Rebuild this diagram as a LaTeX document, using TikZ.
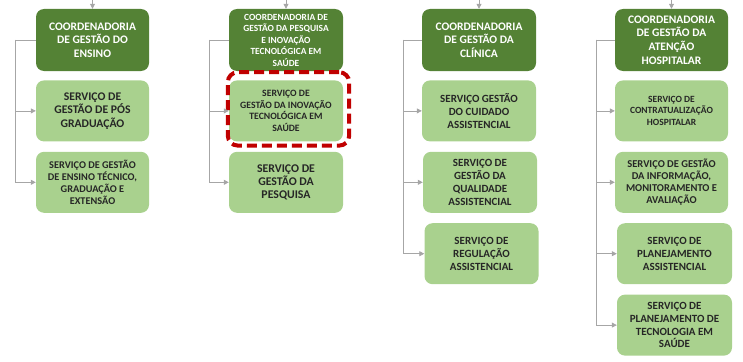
\documentclass[tikz,border=0pt]{standalone}
\usepackage{fontspec}
\setmainfont{Carlito}
\usetikzlibrary{positioning,arrows.meta,fit}
\definecolor{coordgreen}{HTML}{548235}
\definecolor{servgreen}{HTML}{A9D18E}
\definecolor{hlred}{HTML}{C00000}
\definecolor{lingray}{HTML}{A6A6A6}
\tikzset{
  coord/.style={rounded corners=8pt, fill=coordgreen, text=white, minimum width=113pt, minimum height=62pt, align=center, inner sep=1pt},
  serv/.style={rounded corners=8pt, fill=servgreen, text=black!85, minimum width=113pt, minimum height=61pt, align=center, inner sep=1pt},
  fs/.style 2 args={font=\bfseries\fontsize{#1}{#2}\selectfont},
  hl/.style={draw=hlred, line width=4pt, dash pattern=on 10pt off 5pt, rounded corners=10pt, inner xsep=3.5pt, inner ysep=6pt},
  lin/.style={draw=lingray, line width=0.8pt},
  arr/.style={lin, -{Triangle[length=5pt, width=5pt]}},
}
\begin{document}
\begin{tikzpicture}[x=1pt, y=1pt]
\useasboundingbox (0,0) rectangle (743,-361);
% coordenadorias
\node[coord, fs={11.5}{13.4}] (c1) at (92.5,-40) {COORDENADORIA\\DE GESTÃO DO\\ENSINO};
\node[coord, fs={9.4}{11.5}, minimum width=114pt] (c2) at (286,-40) {COORDENADORIA DE\\GESTÃO DA PESQUISA\\E INOVAÇÃO\\TECNOLÓGICA EM\\SAÚDE};
\node[coord, fs={11.5}{13.4}, minimum width=114pt] (c3) at (479,-40) {COORDENADORIA\\DE GESTÃO DA\\CLÍNICA};
\node[coord, fs={11.5}{13.8}] (c4) at (671.5,-40) {COORDENADORIA\\DE GESTÃO DA\\ATENÇÃO\\HOSPITALAR};
% servicos
\node[serv, fs={11.7}{13.4}, below=9pt of c1] (s11) {SERVIÇO DE\\GESTÃO DE PÓS\\GRADUAÇÃO};
\node[serv, fs={10.3}{12}, below=10pt of s11] (s12) {SERVIÇO DE GESTÃO\\DE ENSINO TÉCNICO,\\GRADUAÇÃO E\\EXTENSÃO};
\node[serv, fs={9.7}{11.7}, minimum width=114pt, below=9pt of c2] (s21) {SERVIÇO DE\\GESTÃO DA INOVAÇÃO\\TECNOLÓGICA EM\\SAÚDE};
\node[serv, fs={11.8}{13.3}, minimum width=114pt, below=10pt of s21] (s22) {SERVIÇO DE\\GESTÃO DA\\PESQUISA};
\node[serv, fs={11}{13.3}, minimum width=114pt, below=9pt of c3] (s31) {SERVIÇO GESTÃO\\DO CUIDADO\\ASSISTENCIAL};
\node[serv, fs={11}{13}, minimum width=114pt, below=10pt of s31, xshift=1pt] (s32) {SERVIÇO DE\\GESTÃO DA\\QUALIDADE\\ASSISTENCIAL};
\node[serv, fs={11}{13}, minimum width=114pt, below=10pt of s32, xshift=1.5pt] (s33) {SERVIÇO DE\\REGULAÇÃO\\ASSISTENCIAL};
\node[serv, fs={9.5}{11.3}, below=9pt of c4] (s41) {SERVIÇO DE\\CONTRATUALIZAÇÃO\\HOSPITALAR};
\node[serv, fs={10.5}{12.2}, below=10pt of s41] (s42) {SERVIÇO DE GESTÃO\\DA INFORMAÇÃO,\\MONITORAMENTO E\\AVALIAÇÃO};
\node[serv, fs={11}{13}, minimum width=115pt, below=10pt of s42, xshift=3pt] (s43) {SERVIÇO DE\\PLANEJAMENTO\\ASSISTENCIAL};
\node[serv, fs={11}{12.8}, minimum width=115pt, below=10pt of s43] (s44) {SERVIÇO DE\\PLANEJAMENTO DE\\TECNOLOGIA EM\\SAÚDE};
% destaque
\node[hl, fit=(s21), xshift=2.5pt, yshift=2pt] (h21) {};
% ligacoes
\foreach \c/\d in {c1/20pt, c2/19pt, c3/18pt, c4/18pt} {
  \coordinate (t\c) at (\c.north |- 0,0);
  \draw[arr] (t\c) -- (\c.north);
  \coordinate[left=\d of \c.west] (k\c);
  \draw[lin] (\c.west) -- (k\c);
}
\foreach \c/\s in {c1/s11, c1/s12, c2/s21, c2/s22, c3/s31, c3/s32, c3/s33, c4/s41, c4/s42, c4/s43, c4/s44}
  \draw[arr] (k\c) |- (\s.west);
\end{tikzpicture}
\end{document}
